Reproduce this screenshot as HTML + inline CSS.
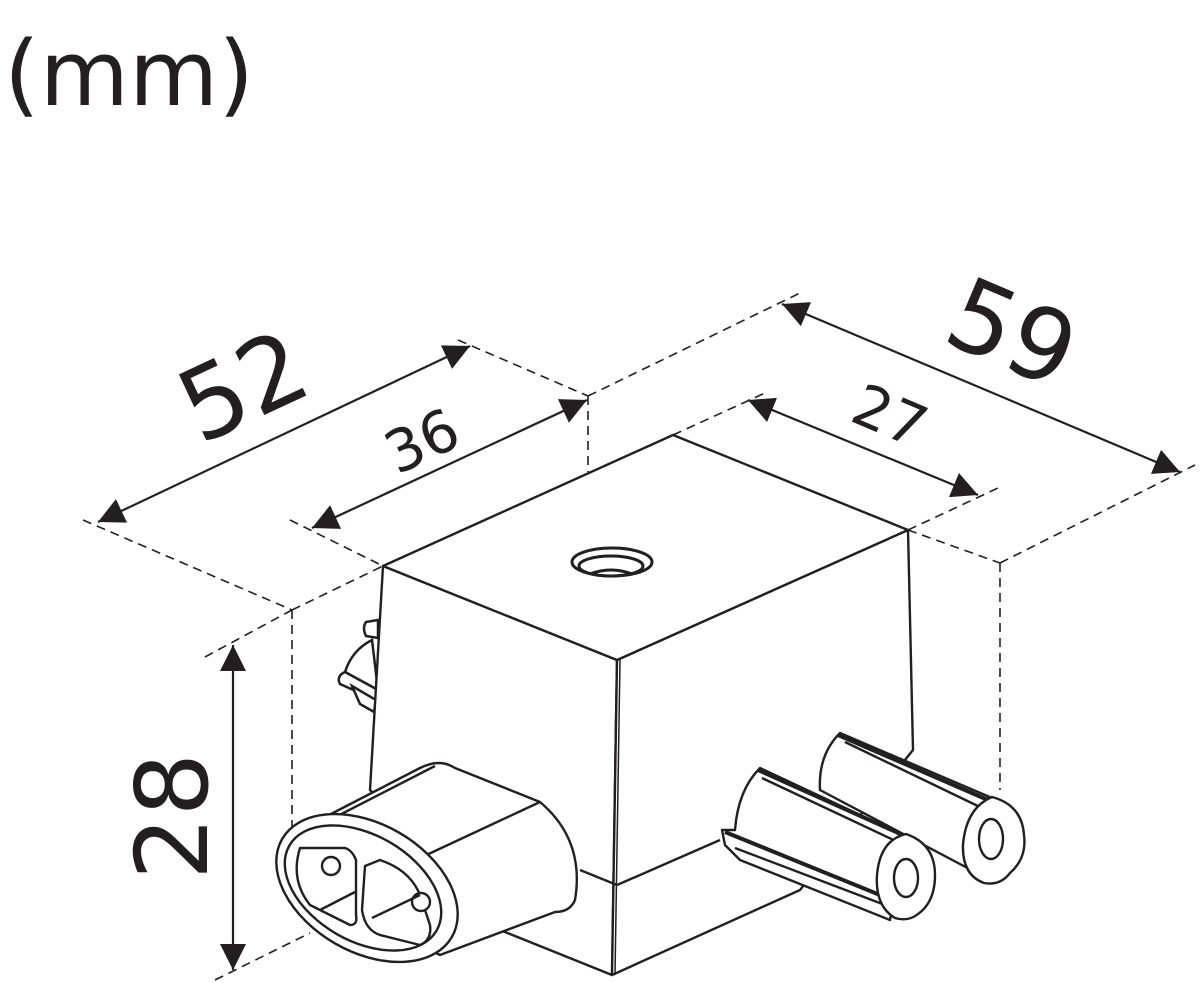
<!DOCTYPE html>
<html><head><meta charset="utf-8"><style>
html,body{margin:0;padding:0;background:#fff;}
svg{display:block;}
text{font-family:"DejaVu Sans","Liberation Sans",sans-serif;fill:#231f20;}
</style></head><body>
<svg width="1200" height="983" viewBox="0 0 1200 983" xmlns="http://www.w3.org/2000/svg">
<defs>
<marker id="b" viewBox="0 0 10 10" refX="10" refY="5" markerWidth="30" markerHeight="26" markerUnits="userSpaceOnUse" orient="auto-start-reverse">
<path d="M0,0 L10,5 L0,10 z" fill="#231f20"/></marker>
</defs>
<text x="4" y="105" font-size="90" textLength="250" lengthAdjust="spacingAndGlyphs">(mm)</text>

<g stroke="#231f20" stroke-width="1.6" fill="none" stroke-dasharray="9,6">
<line x1="83" y1="520" x2="292" y2="610"/>
<line x1="458" y1="340" x2="588" y2="396"/>
<line x1="290" y1="520" x2="383" y2="566"/>
<line x1="588" y1="396" x2="800" y2="293"/>
<line x1="588" y1="396" x2="588" y2="472"/>
<line x1="673" y1="435" x2="765" y2="393"/>
<line x1="908" y1="530" x2="1000" y2="563"/>
<line x1="1000" y1="563" x2="1195" y2="465"/>
<line x1="908" y1="530" x2="998" y2="488"/>
<line x1="1000" y1="563" x2="1000" y2="790"/>
<line x1="205" y1="657" x2="292" y2="610"/>
<line x1="292" y1="610" x2="383" y2="566"/>
<line x1="292" y1="610" x2="292" y2="830"/>
<line x1="215" y1="980" x2="310" y2="933"/>
</g>

<g stroke="#231f20" stroke-width="2.2" fill="none">
<line x1="98" y1="522" x2="470" y2="346" marker-start="url(#b)" marker-end="url(#b)"/>
<line x1="312" y1="528" x2="587" y2="400" marker-start="url(#b)" marker-end="url(#b)"/>
<line x1="782" y1="304" x2="1180" y2="472" marker-start="url(#b)" marker-end="url(#b)"/>
<line x1="748" y1="400" x2="978" y2="495" marker-start="url(#b)" marker-end="url(#b)"/>
<line x1="233" y1="645" x2="233" y2="970" marker-start="url(#b)" marker-end="url(#b)"/>
</g>

<text font-size="100" transform="translate(200,445) rotate(-25)">52</text>
<text font-size="58" transform="translate(397,475) rotate(-25)">36</text>
<text font-size="100" transform="translate(940,340) rotate(23)">59</text>
<text font-size="58" transform="translate(848,420) rotate(23)">27</text>
<text font-size="100" transform="translate(207,880) rotate(-90)">28</text>

<g stroke="#231f20" stroke-width="2.5" fill="#fff">
<path d="M378 620 L366 622 Q362 628 366 636 L378 638 Z"/>
<path d="M372 640 Q352 650 345 672 L378 690 Z"/>
<path d="M345 672 Q336 676 340 684 L376 700 L378 690 Z"/>
<path d="M352 686 L376 700 L374 712 L360 704 Z"/>
</g>

<g stroke="#231f20" stroke-width="2.4" fill="#fff" stroke-linejoin="round">
<path d="M383 566 L617 660 L612 975 L500 930 L370 790 Z"/>
<path d="M617 660 L908 530 L913 750 L800 890 L612 975 Z"/>
<path d="M673 435 L383 566 L617 660 L908 530 Z"/>
<line x1="620" y1="660" x2="615" y2="975" stroke-width="1.5"/>
<path d="M580 870 L617 885 L720 840" fill="none"/>
<ellipse cx="612" cy="562" rx="40" ry="14" stroke-width="3"/>
<ellipse cx="611" cy="566" rx="32" ry="10" stroke-width="3"/>
<path d="M590 574 Q611 566 632 574" fill="none" stroke-width="3"/>
</g>

<g stroke="#231f20" stroke-width="2.4" fill="#fff" stroke-linejoin="round">
<path d="M300 830 L420 768 Q440 758 455 768 L540 802 Q585 840 575 900 Q570 912 555 912 L440 955 L330 900 Z"/>
<line x1="320" y1="825" x2="435" y2="766" fill="none"/>
<line x1="420" y1="858" x2="540" y2="802" fill="none"/>
<ellipse cx="367" cy="888" rx="98" ry="64" transform="rotate(30 367 888)"/>
<ellipse cx="363" cy="888" rx="85" ry="53" transform="rotate(30 363 888)"/>
<path d="M300 848 Q290 880 310 905 L350 925 Q358 925 356 915 L356 860 Q352 850 345 848 Z" fill="none"/>
<path d="M365 866 L362 910 Q365 930 380 935 L420 945 Q432 940 430 925 L420 895 Q410 870 380 860 Z" fill="none"/>
<circle cx="331" cy="866" r="9"/>
<circle cx="421" cy="902" r="9"/>
<line x1="320" y1="910" x2="355" y2="892" fill="none"/>
<line x1="372" y1="918" x2="420" y2="895" fill="none"/>
</g>

<g stroke="#231f20" stroke-width="2.4" fill="#fff" stroke-linejoin="round">
<path d="M840 733 Q818 755 820 790 L975 872 L992 798 L985 795 Z"/>
<path d="M838 735 L988 800" fill="none" stroke-width="4"/>
<path d="M845 742 L982 808" fill="none"/>
<path d="M992 797 Q1022 805 1024 835 Q1027 858 1010 873 Q1000 886 984 883 Q962 875 963 845 Q966 808 992 797 Z"/>
<ellipse cx="991" cy="839" rx="12" ry="20"/>
</g>

<g stroke="#231f20" stroke-width="2.4" fill="#fff" stroke-linejoin="round">
<path d="M760 768 Q738 790 735 830 L722 830 L725 845 L740 860 L890 920 L905 836 Z"/>
<path d="M758 770 L905 836" fill="none" stroke-width="4"/>
<path d="M762 778 L900 843" fill="none"/>
<path d="M725 832 L880 895" fill="none" stroke-width="4"/>
<path d="M735 848 L885 905" fill="none"/>
<path d="M906 834 Q935 844 935 875 Q935 902 918 914 Q908 922 895 918 Q875 906 877 875 Q880 840 906 834 Z"/>
<ellipse cx="906" cy="878" rx="12" ry="19"/>
</g>
</svg>
</body></html>
